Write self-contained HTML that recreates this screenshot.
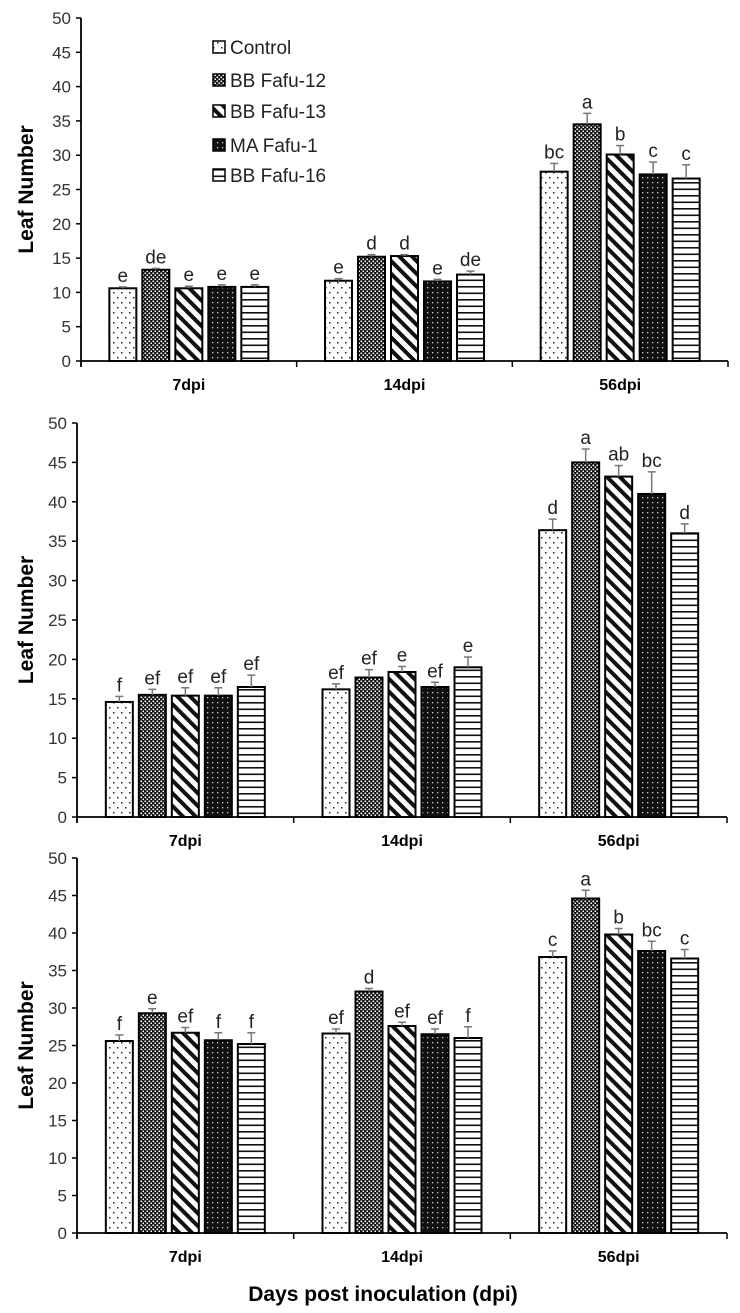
<!DOCTYPE html>
<html><head><meta charset="utf-8"><style>
body{margin:0;background:#fff}
svg{display:block;font-family:"Liberation Sans","DejaVu Sans",sans-serif}
</style></head><body>
<svg id="c" width="740" height="1313" viewBox="0 0 740 1313">
<defs>
<pattern id="p0" width="8" height="10" patternUnits="userSpaceOnUse"><rect width="8" height="10" fill="#fff"/><rect x="1" y="2" width="1.5" height="1.5" fill="#222"/><rect x="5" y="7" width="1.5" height="1.5" fill="#222"/></pattern>
<pattern id="p1" width="4" height="4" patternUnits="userSpaceOnUse"><rect width="4" height="4" fill="#111"/><rect x="0.5" y="0.5" width="1.6" height="1.6" fill="#fff"/><rect x="2.5" y="2.5" width="1.6" height="1.6" fill="#fff"/></pattern>
<pattern id="p2" width="9" height="9" patternUnits="userSpaceOnUse" patternTransform="rotate(-45)"><rect width="9" height="9" fill="#fff"/><rect width="4" height="9" fill="#111"/></pattern>
<pattern id="p3" width="5" height="5" patternUnits="userSpaceOnUse"><rect width="5" height="5" fill="#111"/><rect x="2" y="2" width="1.3" height="1.3" fill="#ccc"/></pattern>
<pattern id="p4" width="6" height="6.5" patternUnits="userSpaceOnUse"><rect width="6" height="6.5" fill="#fff"/><rect y="0" width="6" height="1.6" fill="#111"/></pattern>
</defs>
</svg>
<script>
const categories = ["7dpi","14dpi","56dpi"];
const seriesNames = ["Control","BB Fafu-12","BB Fafu-13","MA Fafu-1","BB Fafu-16"];
const yTicks = [0,5,10,15,20,25,30,35,40,45,50];
const top_values = [[10.6,13.3,10.6,10.8,10.8],[11.7,15.2,15.3,11.6,12.6],[27.6,34.5,30.1,27.2,26.6]];
const top_errors = [[0.2,0.2,0.3,0.3,0.3],[0.3,0.3,0.2,0.3,0.5],[1.2,1.6,1.3,1.8,2.0]];
const top_letters = [["e","de","e","e","e"],["e","d","d","e","de"],["bc","a","b","c","c"]];
const mid_values = [[14.6,15.5,15.4,15.4,16.5],[16.2,17.7,18.4,16.5,19.0],[36.4,45.0,43.2,41.0,36.0]];
const mid_errors = [[0.7,0.7,1.0,1.0,1.5],[0.7,1.0,0.7,0.6,1.3],[1.4,1.7,1.4,2.8,1.2]];
const mid_letters = [["f","ef","ef","ef","ef"],["ef","ef","e","ef","e"],["d","a","ab","bc","d"]];
const bot_values = [[25.6,29.3,26.7,25.7,25.2],[26.6,32.2,27.6,26.5,26.0],[36.8,44.6,39.8,37.6,36.6]];
const bot_errors = [[0.8,0.6,0.7,1.0,1.5],[0.6,0.4,0.5,0.7,1.5],[0.8,1.1,0.8,1.3,1.2]];
const bot_letters = [["f","e","ef","f","f"],["ef","d","ef","ef","f"],["c","a","b","bc","c"]];

const svg=document.getElementById('c');
const NS="http://www.w3.org/2000/svg";
function mk(tag,attrs,parent){const e=document.createElementNS(NS,tag);for(const k in attrs)e.setAttribute(k,attrs[k]);(parent||svg).appendChild(e);return e;}

function chart(name,x0,x1,yTop,yBot,values,errors,letters,labelY){
  const g=mk('g',{});
  
  
  const yS=v=>yBot-(v/50)*(yBot-yTop);
  const cw=(x1-x0)/categories.length;
  yTicks.forEach(t=>{
    const y=yS(t);
    mk('line',{x1:x0-5,y1:y,x2:x0,y2:y,stroke:'#000','stroke-width':1.5},g);
    const tx=mk('text',{x:x0-10,y:y+6,'text-anchor':'end','font-size':17,fill:'#333'},g);
    tx.textContent=t;
    
    
  });
  const yl=mk('text',{x:0,y:0,'font-size':21,'font-weight':'bold','text-anchor':'middle',transform:`translate(33,${(yTop+yBot)/2}) rotate(-90)`},g);
  yl.textContent='Leaf Number';
  
  
  categories.forEach((c,i)=>{
    const cx=x0+cw*(i+0.5);
    const bw=27,pitch=33;
    values[i].forEach((v,j)=>{
      const bx=cx+(j-2)*pitch-bw/2;
      const by=yS(v);
      const r=mk('rect',{x:bx,y:by,width:bw,height:yBot-by,fill:`url(#p${j})`,stroke:'#000','stroke-width':2},g);
      
      
      const ey=yS(v+errors[i][j]);
      mk('line',{x1:bx+bw/2,y1:by,x2:bx+bw/2,y2:ey,stroke:'#777','stroke-width':1.5},g);
      mk('line',{x1:bx+bw/2-4,y1:ey,x2:bx+bw/2+4,y2:ey,stroke:'#777','stroke-width':1.5},g);
      const lt=mk('text',{x:bx+bw/2,y:ey-5,'text-anchor':'middle','font-size':19,fill:'#222'},g);
      lt.textContent=letters[i][j];
      
      
    });
    if(i>0) mk('line',{x1:x0+cw*i,y1:yBot,x2:x0+cw*i,y2:yBot+6,stroke:'#000','stroke-width':1.5},g);
    const cl=mk('text',{x:cx,y:labelY,'text-anchor':'middle','font-size':16,'font-weight':'bold'},g);
    cl.textContent=c;
    
    
  });
  mk('line',{x1:x0,y1:yTop,x2:x0,y2:yBot+6,stroke:'#000','stroke-width':1.8},g);
  mk('line',{x1:x0,y1:yBot,x2:x1,y2:yBot,stroke:'#000','stroke-width':1.8},g);
  mk('line',{x1:x1,y1:yBot,x2:x1,y2:yBot+6,stroke:'#000','stroke-width':1.5},g);
}
chart('chart-top',81,728,18,361,top_values,top_errors,top_letters,390);
chart('chart-middle',77,727,423,817,mid_values,mid_errors,mid_letters,846);
chart('chart-bottom',77,727,858,1233,bot_values,bot_errors,bot_letters,1262);

const lg=mk('g',{});


const legY=[47,80,111,145,175];
seriesNames.forEach((s,j)=>{
  const e=mk('g',{},lg);
  
  
  mk('rect',{x:213,y:legY[j]-6,width:12,height:12,fill:`url(#p${j})`,stroke:'#000','stroke-width':1.5},e);
  const t=mk('text',{x:230,y:legY[j]+7,'font-size':19,fill:'#222'},e);
  t.textContent=s;
});
const xt=mk('text',{x:383,y:1301,'text-anchor':'middle','font-size':21,'font-weight':'bold'});
xt.textContent='Days post inoculation  (dpi)';


</script>
</body></html>
